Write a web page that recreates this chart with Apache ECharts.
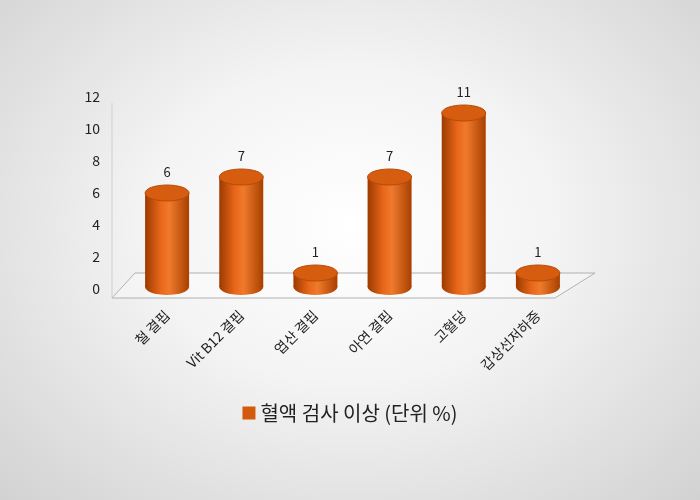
<!DOCTYPE html><html><head><meta charset="utf-8">
<script src="https://cdn.jsdelivr.net/npm/echarts@6/dist/echarts.min.js"></script>
<style>html,body{margin:0;padding:0}#c{width:700px;height:500px;background:radial-gradient(ellipse at 50% 45%,#ffffff 0%,#f4f4f4 40%,#d2d2d2 100%)}</style>
</head><body><div id="c"></div><script>
const categories=['철 결핍','Vit B12 결핍','엽산 결핍','아연 결핍','고혈당','갑상선저하증'];
const values=[6,7,1,7,11,1];
const seriesName='혈액 검사 이상 (단위 %)';
const chart=echarts.init(document.getElementById('c'));
const F='"Noto Sans CJK KR","Noto Sans",sans-serif';
chart.setOption({
 animation:false,
 grid:{left:130,right:125,top:97,bottom:211},
 legend:{bottom:72,left:'center',itemWidth:13,itemHeight:13,icon:'rect',textStyle:{fontSize:20,color:'#222',fontFamily:F},data:[seriesName]},
 xAxis:{type:'category',data:categories,axisLine:{show:false},axisTick:{show:false},
  axisLabel:{rotate:45,fontSize:14,color:'#222',fontFamily:F,margin:24,interval:0}},
 yAxis:{type:'value',min:0,max:12,interval:2,splitLine:{show:false},axisLine:{show:false},
  axisLabel:{fontSize:14,color:'#222',fontFamily:F,margin:30,padding:[16,0,0,0]}},
 graphic:[{type:'polygon',z:0,shape:{points:[[112,298],[555,298],[595,273],[135,273]]},style:{fill:'rgba(255,255,255,0.3)',stroke:'#b0b0b0',lineWidth:1}},
  {type:'line',shape:{x1:112,y1:103,x2:112,y2:298},style:{stroke:'#cfcfcf'}}],
 series:[{type:'custom',name:seriesName,itemStyle:{color:'#D35A0C'},data:values,
  renderItem:function(p,api){
   const x=api.coord([api.value(0),0]);const t=api.coord([api.value(0),api.value(1)]);
   const r=22,ry=8,cx=x[0],yb=x[1]-2,yt=t[1];
   const g=new echarts.graphic.LinearGradient(0,0,1,0,[{offset:0,color:'#9c3a00'},{offset:0.35,color:'#e8661a'},{offset:0.55,color:'#f07a2c'},{offset:1,color:'#a84000'}]);
   return {type:'group',children:[
    {type:'ellipse',shape:{cx:cx,cy:yb,rx:r,ry:ry},style:{fill:g}},
    {type:'rect',shape:{x:cx-r,y:yt,width:2*r,height:yb-yt},style:{fill:g}},
    {type:'ellipse',shape:{cx:cx,cy:yt,rx:r,ry:ry},style:{fill:'#d65c10',stroke:'#b84a05',lineWidth:1}},
    {type:'text',style:{text:String(api.value(1)),x:cx,y:yt-ry-6,align:'center',verticalAlign:'bottom',fontSize:13,fill:'#222',fontFamily:F}}
   ]};
  }}]
});
</script></body></html>
